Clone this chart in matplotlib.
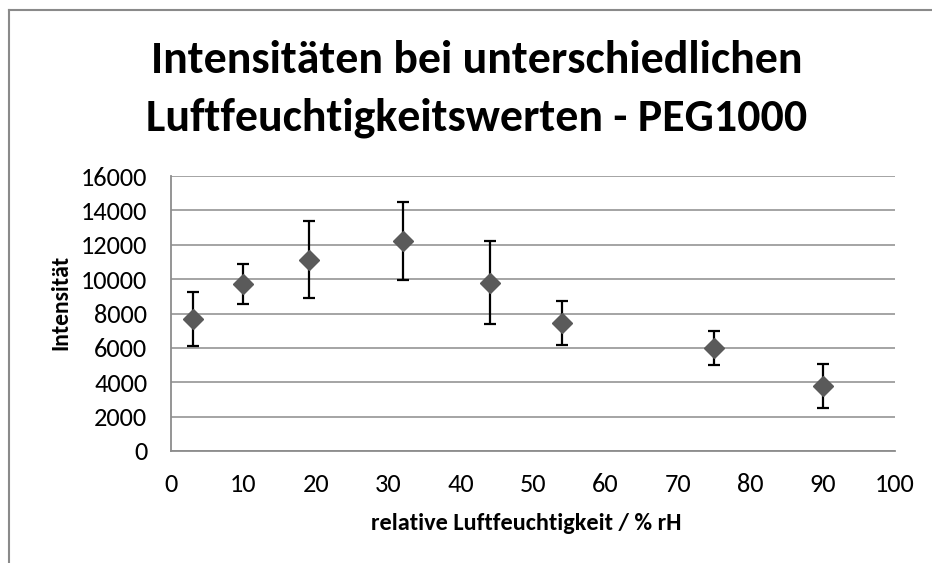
import matplotlib
matplotlib.use("Agg")
import matplotlib.pyplot as plt
from matplotlib.lines import Line2D

plt.rcParams["font.family"] = ["Carlito", "Lato", "DejaVu Sans"]

# relative humidity (% rH), mean intensity and its error
humidity = [3, 10, 19, 32, 44, 54, 75, 90]
intensity = [7700, 9720, 11120, 12220, 9800, 7460, 6020, 3790]
error = [1570, 1150, 2240, 2250, 2410, 1290, 990, 1290]

x_ticks = list(range(0, 101, 10))
y_ticks = list(range(0, 16001, 2000))

GRID = "#8c8c8c"

fig = plt.figure(figsize=(9.32, 5.63), dpi=100)
ax = fig.add_axes([171 / 932, 1 - 451 / 563, 724 / 932, 275 / 563])

ax.errorbar(humidity, intensity, yerr=error, fmt="none", ecolor="black",
            elinewidth=1.6, capsize=4.3, capthick=1.6, zorder=3)
ax.plot(humidity, intensity, linestyle="none", marker="D", markersize=10,
        color="#5a5a5a", zorder=4)

ax.set_xlim(0, 100)
ax.set_ylim(0, 16000)
ax.set_xticks(x_ticks)
ax.set_yticks(y_ticks)
ax.tick_params(length=0, labelsize=19)
ax.tick_params(axis="y", pad=17)
ax.tick_params(axis="x", pad=16)
ax.grid(axis="y", color=GRID, linewidth=1.1)
ax.set_axisbelow(True)
for side in ("top", "right"):
    ax.spines[side].set_visible(False)
for side in ("left", "bottom"):
    ax.spines[side].set_color(GRID)
    ax.spines[side].set_linewidth(1.3)

ax.set_xlabel("relative Luftfeuchtigkeit / % rH", fontsize=17.5, fontweight="bold")
ax.xaxis.set_label_coords(0.49, -0.225)
ax.set_ylabel("Intensität", fontsize=17, fontweight="bold")
ax.yaxis.set_label_coords(-0.138, 0.54)

fig.text(477 / 932, 1 - 73 / 563, "Intensitäten bei unterschiedlichen",
         ha="center", va="baseline", fontsize=33, fontweight="bold")
fig.text(477 / 932, 1 - 130 / 563, "Luftfeuchtigkeitswerten - PEG1000",
         ha="center", va="baseline", fontsize=33, fontweight="bold")

# chart area frame (cropped on the right and bottom)
fig.add_artist(Line2D([9 / 932, 1], [1 - 10 / 563] * 2, color="#8a8a8a", lw=1.5))
fig.add_artist(Line2D([9 / 932] * 2, [0, 1 - 10 / 563], color="#8a8a8a", lw=1.5))

fig.savefig("out.png", dpi=100)
